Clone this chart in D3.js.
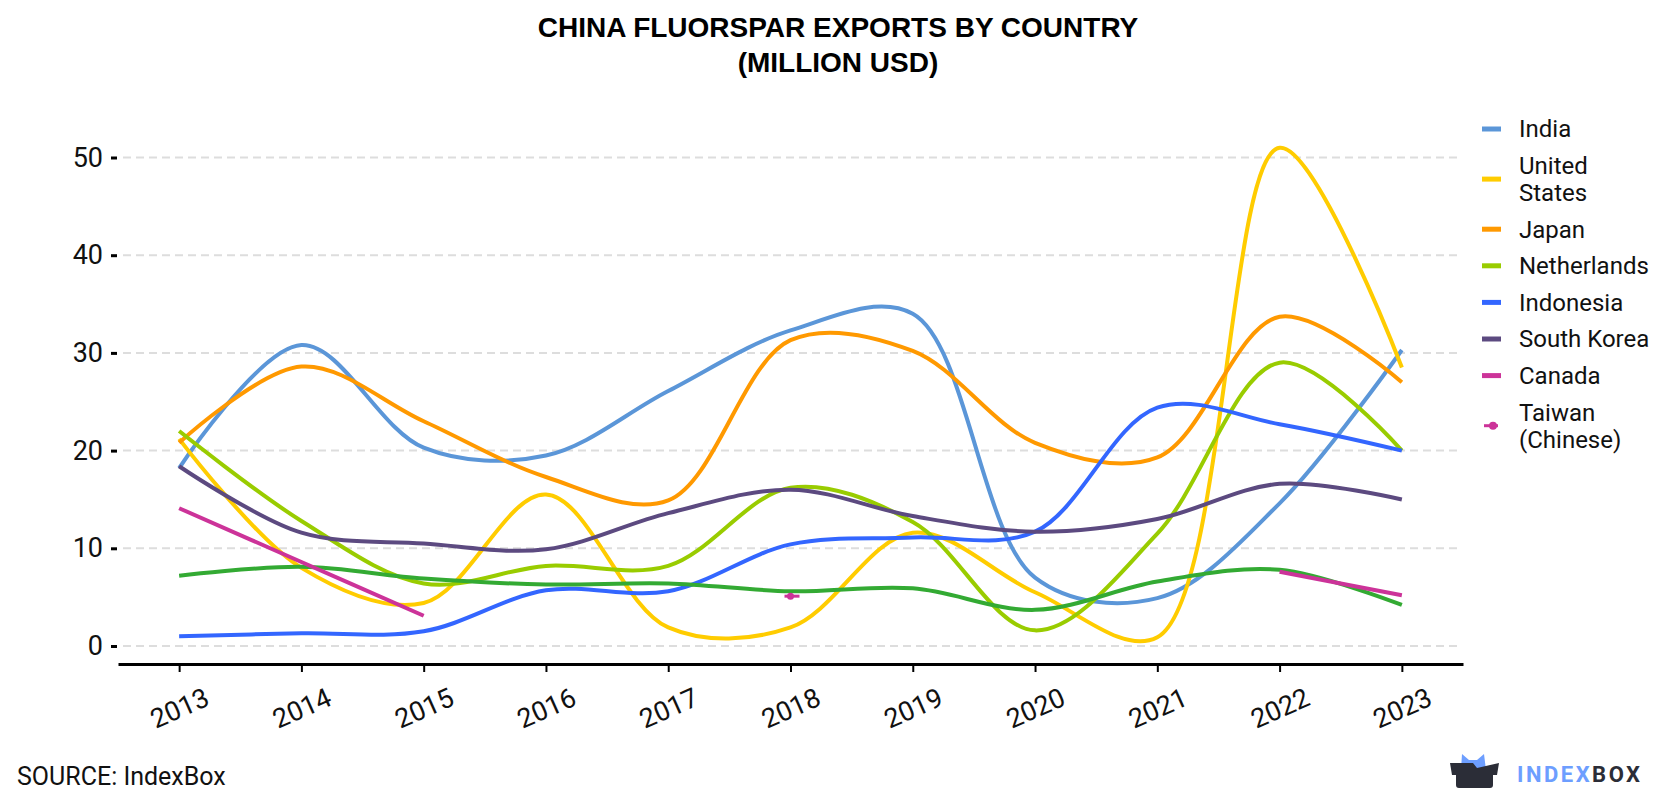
<!DOCTYPE html>
<html>
<head>
<meta charset="utf-8">
<script src="https://cdn.jsdelivr.net/npm/d3@7"></script>
<style>
	body { margin: 0; background: #fff; }
	svg { display: block; font-family: Roboto, sans-serif; }
</style>
</head>
<body>
<script>
"use strict";

// values, million USD
const years = [2013, 2014, 2015, 2016, 2017, 2018, 2019, 2020, 2021, 2022, 2023];
const yTicks = [0, 10, 20, 30, 40, 50];
const india = [18.2, 30.8, 20.3, 19.5, 26.1, 32.3, 34.0, 7.0, 4.9, 14.6, 30.3];
const unitedStates = [21.2, 8.0, 4.4, 15.5, 1.9, 1.9, 11.6, 5.5, 0.9, 51.0, 28.5];
const japan = [20.8, 28.6, 23.0, 17.3, 14.9, 31.3, 30.2, 20.8, 19.3, 33.7, 27.0];
const netherlands = [22.0, 12.8, 6.4, 8.2, 8.2, 16.2, 12.7, 1.6, 11.5, 29.0, 20.0];
const indonesia = [1.0, 1.3, 1.5, 5.7, 5.6, 10.4, 11.1, 11.7, 24.4, 22.7, 20.0];
const southKorea = [18.4, 11.6, 10.5, 9.9, 13.6, 16.0, 13.3, 11.7, 13.0, 16.6, 15.0];
const canada = [14.1, 8.6, 3.1, null, null, null, null, null, null, 7.6, 5.2];
const taiwan = [null, null, null, null, null, 5.1, null, null, null, null, null];
const unlisted = [7.2, 8.1, 6.9, 6.3, 6.4, 5.6, 5.9, 3.7, 6.6, 7.8, 4.2];

const series = [
	{ id: "India", color: "#5b96d8", values: india },
	{ id: "United States", color: "#ffcc00", values: unitedStates },
	{ id: "Japan", color: "#ff9900", values: japan },
	{ id: "Netherlands", color: "#99cc00", values: netherlands },
	{ id: "Indonesia", color: "#3366ff", values: indonesia },
	{ id: "South Korea", color: "#5c4a80", values: southKorea },
	{ id: "Other", color: "#33aa33", values: unlisted, hidden: true },
	{ id: "Canada", color: "#cc3399", values: canada },
	{ id: "Taiwan (Chinese)", color: "#cc3399", values: taiwan, marker: true }
];

const w = 1680;
const h = 800;

const x = d3.scaleLinear()
	.domain([2012.5, 2023.5])
	.range([118, 1463]);
const y = d3.scaleLinear()
	.domain([0, 50])
	.range([646, 157.5]);
const axisY = y(0) + 18;

const svg = d3.select("body")
	.append("svg")
	.attr("width", w)
	.attr("height", h);

// title
svg.append("g")
	.selectAll("text")
	.data(["CHINA FLUORSPAR EXPORTS BY COUNTRY", "(MILLION USD)"])
	.join("text")
		.attr("x", 838)
		.attr("y", (d, i) => 37 + i * 35)
		.attr("text-anchor", "middle")
		.style("font-family", "'Liberation Sans', Arial, sans-serif")
		.style("font-weight", "bold")
		.style("font-size", "28px")
		.text(d => d);

// gridlines
svg.append("g")
	.selectAll("line")
	.data(yTicks)
	.join("line")
		.attr("x1", 123)
		.attr("x2", 1462)
		.attr("y1", d => y(d))
		.attr("y2", d => y(d))
		.attr("stroke", "#dddddd")
		.attr("stroke-width", 2)
		.attr("stroke-dasharray", "8,5");

// y axis
const yAxis = svg.append("g")
	.attr("transform", "translate(117,0)")
	.call(d3.axisLeft(y).tickValues(yTicks).tickSize(6).tickPadding(8));
yAxis.select(".domain").remove();
yAxis.selectAll(".tick line")
	.attr("stroke", "#000")
	.attr("stroke-width", 3);
yAxis.selectAll(".tick text")
	.attr("fill", "#111")
	.style("font-family", "Roboto, sans-serif")
	.style("font-size", "27px");

// x axis
const xAxis = svg.append("g")
	.attr("transform", `translate(0,${axisY})`)
	.call(d3.axisBottom(x).tickValues(years).tickFormat(d3.format("d")).tickSize(8).tickSizeOuter(0));
xAxis.select(".domain")
	.attr("stroke", "#000")
	.attr("stroke-width", 3);
xAxis.selectAll(".tick line")
	.attr("stroke", "#000")
	.attr("stroke-width", 2);
xAxis.selectAll(".tick text")
	.attr("y", 0)
	.attr("dy", "0.35em")
	.attr("transform", "translate(0,44) rotate(-24)")
	.attr("text-anchor", "middle")
	.attr("fill", "#111")
	.style("font-family", "Roboto, sans-serif")
	.style("font-size", "27px");

// lines
const line = d3.line()
	.defined(d => d.v != null)
	.x(d => x(d.year))
	.y(d => y(d.v))
	.curve(d3.curveCatmullRom);

const rows = s => years.map((year, i) => ({ year, v: s.values[i] }));

svg.append("g")
	.selectAll("path")
	.data(series.filter(s => !s.marker))
	.join("path")
		.attr("d", s => line(rows(s)))
		.attr("fill", "none")
		.attr("stroke", s => s.color)
		.attr("stroke-width", 4)
		.attr("stroke-linejoin", "round");

// single point series drawn as a small line-dot mark
const points = svg.append("g")
	.selectAll("g")
	.data(series.filter(s => s.marker).flatMap(s => rows(s).filter(d => d.v != null).map(d => ({ ...d, color: s.color }))))
	.join("g")
		.attr("transform", d => `translate(${x(d.year)},${y(d.v)})`);
points.append("line")
	.attr("x1", -6)
	.attr("x2", 9)
	.attr("stroke", d => d.color)
	.attr("stroke-width", 3);
points.append("circle")
	.attr("r", 3.5)
	.attr("fill", d => d.color);

// legend
const legendItems = series.filter(s => !s.hidden);
let offset = 129 - 18.3;
const legendPos = legendItems.map(s => {
	const lines = s.id.length > 12 ? s.id.split(" ") : [s.id];
	const hgt = 36.6 + (lines.length - 1) * 27;
	const pos = { s, lines, cy: offset + hgt / 2 };
	offset += hgt;
	return pos;
});

const legend = svg.append("g")
	.selectAll("g")
	.data(legendPos)
	.join("g")
		.attr("transform", d => `translate(1482,${d.cy})`);
legend.append("line")
	.attr("x1", d => d.s.marker ? 2 : 0)
	.attr("x2", d => d.s.marker ? 16 : 19)
	.attr("stroke", d => d.s.color)
	.attr("stroke-width", d => d.s.marker ? 3 : 5);
legend.filter(d => d.s.marker)
	.append("circle")
	.attr("cx", 11)
	.attr("r", 4)
	.attr("fill", d => d.s.color);
legend.append("text")
	.attr("x", 37)
	.style("font-size", "24px")
	.attr("fill", "#111")
	.selectAll("tspan")
	.data(d => d.lines.map((t, i) => ({ t, i, n: d.lines.length })))
	.join("tspan")
		.attr("x", 37)
		.attr("y", d => (d.i - (d.n - 1) / 2) * 27)
		.attr("dy", "0.35em")
		.text(d => d.t);

// source
svg.append("text")
	.attr("x", 17)
	.attr("y", 785)
	.style("font-size", "25px")
	.attr("fill", "#111")
	.text("SOURCE: IndexBox");

// logo
const logo = svg.append("g")
	.attr("transform", "translate(1450,754)");
logo.append("path")
	.attr("d", "M11,16 L12,0 L19,6 L27,6 L34,0 L36,16 Z")
	.attr("fill", "#6d9eff");
logo.append("path")
	.attr("d", "M0,9 L23,9 L27,14 L49,9 L47,21 L43,21 L43,31 Q43,34 40,34 L9,34 Q6,34 6,31 L6,21 L2,21 Z")
	.attr("fill", "#2b2d37");
logo.append("text")
	.attr("x", 67)
	.attr("y", 28)
	.style("font-weight", "bold")
	.style("font-size", "22px")
	.style("letter-spacing", "2.5px")
	.call(t => t.append("tspan").attr("fill", "#6d9eff").text("INDEX"))
	.call(t => t.append("tspan").attr("fill", "#2b2d37").text("BOX"));
</script>
</body>
</html>
